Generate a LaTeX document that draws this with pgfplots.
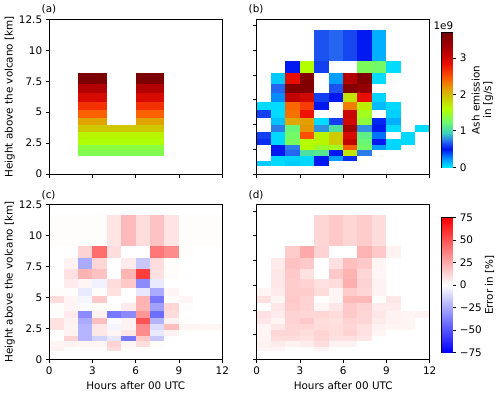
\documentclass[border=0pt]{standalone}
\usepackage{fontspec}
\setmainfont{DejaVu Sans}
\usepackage{pgfplots}
\pgfplotsset{compat=1.18}
\newcommand\ff{\fontsize{10.4}{11.5}\selectfont}

% emission scale (white below 0 marks "no emission"), plain emission scale, error scale
\pgfplotsset{
  colormap={ashW}{rgb255(0pt)=(255,255,255) rgb255(39pt)=(255,255,255) rgb255(40pt)=(0,230,255)
    rgb255(65pt)=(0,140,255) rgb255(89pt)=(0,20,240) rgb255(112pt)=(40,110,240)
    rgb255(135pt)=(60,210,190) rgb255(163pt)=(110,250,110) rgb255(200pt)=(180,255,0)
    rgb255(229pt)=(205,205,0) rgb255(260pt)=(230,150,0) rgb255(285pt)=(255,90,0)
    rgb255(322pt)=(235,15,0) rgb255(360pt)=(180,0,0) rgb255(409pt)=(120,0,0)},
  colormap={ash}{rgb255(0pt)=(0,230,255)
    rgb255(25pt)=(0,140,255) rgb255(49pt)=(0,20,240) rgb255(72pt)=(40,110,240)
    rgb255(95pt)=(60,210,190) rgb255(123pt)=(110,250,110) rgb255(160pt)=(180,255,0)
    rgb255(189pt)=(205,205,0) rgb255(220pt)=(230,150,0) rgb255(245pt)=(255,90,0)
    rgb255(282pt)=(235,15,0) rgb255(320pt)=(180,0,0) rgb255(369pt)=(120,0,0)},
  colormap={bwr}{rgb255(0pt)=(0,0,255) rgb255(1pt)=(255,255,255) rgb255(2pt)=(255,0,0)},
  base/.style={scale only axis, tick align=outside, major tick length=3.5pt,
    tick style={black, line width=0.7pt}, axis line style={black, line width=0.7pt},
    tick label style={font=\ff}, label style={font=\ff}},
  panel/.style={base, width=173pt, height=154.5pt, xmin=0, xmax=12, ymin=0, ymax=12.5,
    tick pos=left, xtick={0,3,6,9,12}, axis on top, ylabel style={yshift=-3pt}},
  emis/.style={colormap name=ashW, point meta min=-0.4, point meta max=3.69},
  err/.style={colormap name=bwr, point meta min=-75, point meta max=75},
  cells/.style={surf, shader=flat corner, mesh/cols=13, mesh/rows=16, point meta=explicit},
  cbar/.style={base, width=11pt, height=134.6pt, xmin=0, xmax=1, xtick=\empty,
    ytick pos=right, yticklabel pos=right},
}

\begin{document}
\ff
\begin{tikzpicture}
\useasboundingbox (0,0) rectangle (500pt,394pt);

% (a) a priori emission
\begin{axis}[panel, emis, at={(49.3pt,220pt)}, anchor=south west, xticklabels={},
  ytick={0,2.5,5,7.5,10,12.5}, yticklabels={0,2.5,5,7.5,10,12.5},
  ylabel={Height above the volcano [km]}]
\addplot[cells] coordinates {
(0,0.70)[-.4] (1,0.70)[-.4] (2,0.70)[-.4] (3,0.70)[-.4] (4,0.70)[-.4] (5,0.70)[-.4] (6,0.70)[-.4] (7,0.70)[-.4] (8,0.70)[-.4] (9,0.70)[-.4] (10,0.70)[-.4] (11,0.70)[-.4] (12,0.70)[-.4]
(0,1.10)[-.4] (1,1.10)[-.4] (2,1.10)[-.4] (3,1.10)[-.4] (4,1.10)[-.4] (5,1.10)[-.4] (6,1.10)[-.4] (7,1.10)[-.4] (8,1.10)[-.4] (9,1.10)[-.4] (10,1.10)[-.4] (11,1.10)[-.4] (12,1.10)[-.4]
(0,1.52)[-.4] (1,1.52)[-.4] (2,1.52)[1.33] (3,1.52)[1.33] (4,1.52)[1.33] (5,1.52)[1.33] (6,1.52)[1.33] (7,1.52)[1.33] (8,1.52)[-.4] (9,1.52)[-.4] (10,1.52)[-.4] (11,1.52)[-.4] (12,1.52)[-.4]
(0,1.97)[-.4] (1,1.97)[-.4] (2,1.97)[1.38] (3,1.97)[1.38] (4,1.97)[1.38] (5,1.97)[1.38] (6,1.97)[1.38] (7,1.97)[1.38] (8,1.97)[-.4] (9,1.97)[-.4] (10,1.97)[-.4] (11,1.97)[-.4] (12,1.97)[-.4]
(0,2.43)[-.4] (1,2.43)[-.4] (2,2.43)[1.58] (3,2.43)[1.58] (4,2.43)[1.58] (5,2.43)[1.58] (6,2.43)[1.58] (7,2.43)[1.58] (8,2.43)[-.4] (9,2.43)[-.4] (10,2.43)[-.4] (11,2.43)[-.4] (12,2.43)[-.4]
(0,2.90)[-.4] (1,2.90)[-.4] (2,2.90)[1.65] (3,2.90)[1.65] (4,2.90)[1.65] (5,2.90)[1.65] (6,2.90)[1.65] (7,2.90)[1.65] (8,2.90)[-.4] (9,2.90)[-.4] (10,2.90)[-.4] (11,2.90)[-.4] (12,2.90)[-.4]
(0,3.43)[-.4] (1,3.43)[-.4] (2,3.43)[1.92] (3,3.43)[1.92] (4,3.43)[1.92] (5,3.43)[1.92] (6,3.43)[1.92] (7,3.43)[1.92] (8,3.43)[-.4] (9,3.43)[-.4] (10,3.43)[-.4] (11,3.43)[-.4] (12,3.43)[-.4]
(0,3.99)[-.4] (1,3.99)[-.4] (2,3.99)[2.12] (3,3.99)[2.12] (4,3.99)[-.4] (5,3.99)[-.4] (6,3.99)[2.12] (7,3.99)[2.12] (8,3.99)[-.4] (9,3.99)[-.4] (10,3.99)[-.4] (11,3.99)[-.4] (12,3.99)[-.4]
(0,4.60)[-.4] (1,4.60)[-.4] (2,4.60)[2.42] (3,4.60)[2.42] (4,4.60)[-.4] (5,4.60)[-.4] (6,4.60)[2.42] (7,4.60)[2.42] (8,4.60)[-.4] (9,4.60)[-.4] (10,4.60)[-.4] (11,4.60)[-.4] (12,4.60)[-.4]
(0,5.22)[-.4] (1,5.22)[-.4] (2,5.22)[2.65] (3,5.22)[2.65] (4,5.22)[-.4] (5,5.22)[-.4] (6,5.22)[2.65] (7,5.22)[2.65] (8,5.22)[-.4] (9,5.22)[-.4] (10,5.22)[-.4] (11,5.22)[-.4] (12,5.22)[-.4]
(0,5.87)[-.4] (1,5.87)[-.4] (2,5.87)[2.95] (3,5.87)[2.95] (4,5.87)[-.4] (5,5.87)[-.4] (6,5.87)[2.95] (7,5.87)[2.95] (8,5.87)[-.4] (9,5.87)[-.4] (10,5.87)[-.4] (11,5.87)[-.4] (12,5.87)[-.4]
(0,6.60)[-.4] (1,6.60)[-.4] (2,6.60)[3.22] (3,6.60)[3.22] (4,6.60)[-.4] (5,6.60)[-.4] (6,6.60)[3.22] (7,6.60)[3.22] (8,6.60)[-.4] (9,6.60)[-.4] (10,6.60)[-.4] (11,6.60)[-.4] (12,6.60)[-.4]
(0,7.35)[-.4] (1,7.35)[-.4] (2,7.35)[3.65] (3,7.35)[3.65] (4,7.35)[-.4] (5,7.35)[-.4] (6,7.35)[3.65] (7,7.35)[3.65] (8,7.35)[-.4] (9,7.35)[-.4] (10,7.35)[-.4] (11,7.35)[-.4] (12,7.35)[-.4]
(0,8.27)[-.4] (1,8.27)[-.4] (2,8.27)[-.4] (3,8.27)[-.4] (4,8.27)[-.4] (5,8.27)[-.4] (6,8.27)[-.4] (7,8.27)[-.4] (8,8.27)[-.4] (9,8.27)[-.4] (10,8.27)[-.4] (11,8.27)[-.4] (12,8.27)[-.4]
(0,9.22)[-.4] (1,9.22)[-.4] (2,9.22)[-.4] (3,9.22)[-.4] (4,9.22)[-.4] (5,9.22)[-.4] (6,9.22)[-.4] (7,9.22)[-.4] (8,9.22)[-.4] (9,9.22)[-.4] (10,9.22)[-.4] (11,9.22)[-.4] (12,9.22)[-.4]
(0,11.65)[-.4] (1,11.65)[-.4] (2,11.65)[-.4] (3,11.65)[-.4] (4,11.65)[-.4] (5,11.65)[-.4] (6,11.65)[-.4] (7,11.65)[-.4] (8,11.65)[-.4] (9,11.65)[-.4] (10,11.65)[-.4] (11,11.65)[-.4] (12,11.65)[-.4]
};
\end{axis}

% (b) retrieved emission
\begin{axis}[panel, emis, at={(256.7pt,220pt)}, anchor=south west, xticklabels={},
  ytick={0,2,4,6,8,10,12}, yticklabels={}]
\addplot[cells] coordinates {
(0,0.70)[.08] (1,0.70)[.03] (2,0.70)[.07] (3,0.70)[.04] (4,0.70)[.5] (5,0.70)[-.4] (6,0.70)[-.4] (7,0.70)[-.4] (8,0.70)[-.4] (9,0.70)[-.4] (10,0.70)[-.4] (11,0.70)[-.4] (12,0.70)[-.4]
(0,1.10)[-.4] (1,1.10)[.05] (2,1.10)[.05] (3,1.10)[.04] (4,1.10)[.5] (5,1.10)[.2] (6,1.10)[.55] (7,1.10)[-.4] (8,1.10)[-.4] (9,1.10)[-.4] (10,1.10)[-.4] (11,1.10)[-.4] (12,1.10)[-.4]
(0,1.52)[-.4] (1,1.52)[.48] (2,1.52)[.7] (3,1.52)[1.05] (4,1.52)[1.1] (5,1.52)[.5] (6,1.52)[1.75] (7,1.52)[.75] (8,1.52)[-.4] (9,1.52)[-.4] (10,1.52)[-.4] (11,1.52)[-.4] (12,1.52)[-.4]
(0,1.97)[-.4] (1,1.97)[.5] (2,1.97)[.75] (3,1.97)[1.6] (4,1.97)[1.45] (5,1.97)[1.5] (6,1.97)[2.45] (7,1.97)[1.25] (8,1.97)[.2] (9,1.97)[.05] (10,1.97)[-.4] (11,1.97)[-.4] (12,1.97)[-.4]
(0,2.43)[.55] (1,2.43)[.04] (2,2.43)[1.3] (3,2.43)[1.6] (4,2.43)[1.65] (5,2.43)[1.9] (6,2.43)[3.1] (7,2.43)[1.2] (8,2.43)[.5] (9,2.43)[.04] (10,2.43)[.04] (11,2.43)[-.4] (12,2.43)[-.4]
(0,2.90)[.6] (1,2.90)[.04] (2,2.90)[1.25] (3,2.90)[2.5] (4,2.90)[1.65] (5,2.90)[1.9] (6,2.90)[2.95] (7,2.90)[1.15] (8,2.90)[.3] (9,2.90)[-.4] (10,2.90)[.04] (11,2.90)[-.4] (12,2.90)[-.4]
(0,3.43)[-.4] (1,3.43)[.75] (2,3.43)[1.2] (3,3.43)[2.2] (4,3.43)[.8] (5,3.43)[1.05] (6,3.43)[3.35] (7,3.43)[.8] (8,3.43)[.5] (9,3.43)[.03] (10,3.43)[-.4] (11,3.43)[.03] (12,3.43)[-.4]
(0,3.99)[-.4] (1,3.99)[.1] (2,3.99)[2.1] (3,3.99)[2.15] (4,3.99)[.03] (5,3.99)[.6] (6,3.99)[3.0] (7,3.99)[1.4] (8,3.99)[.45] (9,3.99)[.15] (10,3.99)[-.4] (11,3.99)[-.4] (12,3.99)[-.4]
(0,4.60)[.6] (1,4.60)[.03] (2,4.60)[2.35] (3,4.60)[2.8] (4,4.60)[-.4] (5,4.60)[-.4] (6,4.60)[3.05] (7,4.60)[1.5] (8,4.60)[-.4] (9,4.60)[.06] (10,4.60)[-.4] (11,4.60)[-.4] (12,4.60)[-.4]
(0,5.22)[.03] (1,5.22)[.03] (2,5.22)[2.4] (3,5.22)[2.6] (4,5.22)[.5] (5,5.22)[-.4] (6,5.22)[2.3] (7,5.22)[1.7] (8,5.22)[.12] (9,5.22)[.04] (10,5.22)[-.4] (11,5.22)[-.4] (12,5.22)[-.4]
(0,5.87)[-.4] (1,5.87)[.25] (2,5.87)[3.1] (3,5.87)[3.0] (4,5.87)[.6] (5,5.87)[.5] (6,5.87)[1.75] (7,5.87)[2.85] (8,5.87)[.05] (9,5.87)[-.4] (10,5.87)[-.4] (11,5.87)[-.4] (12,5.87)[-.4]
(0,6.60)[-.4] (1,6.60)[.7] (2,6.60)[3.6] (3,6.60)[3.6] (4,6.60)[-.4] (5,6.60)[.65] (6,6.60)[3.6] (7,6.60)[3.45] (8,6.60)[-.4] (9,6.60)[-.4] (10,6.60)[-.4] (11,6.60)[-.4] (12,6.60)[-.4]
(0,7.35)[-.4] (1,7.35)[.08] (2,7.35)[2.85] (3,7.35)[3.6] (4,7.35)[-.4] (5,7.35)[.2] (6,7.35)[3.2] (7,7.35)[3.6] (8,7.35)[.03] (9,7.35)[-.4] (10,7.35)[-.4] (11,7.35)[-.4] (12,7.35)[-.4]
(0,8.27)[-.4] (1,8.27)[-.4] (2,8.27)[.5] (3,8.27)[1.6] (4,8.27)[.6] (5,8.27)[-.4] (6,8.27)[-.4] (7,8.27)[1.3] (8,8.27)[1.25] (9,8.27)[.03] (10,8.27)[-.4] (11,8.27)[-.4] (12,8.27)[-.4]
(0,9.22)[-.4] (1,9.22)[-.4] (2,9.22)[-.4] (3,9.22)[-.4] (4,9.22)[.65] (5,9.22)[.7] (6,9.22)[.62] (7,9.22)[.48] (8,9.22)[.15] (9,9.22)[-.4] (10,9.22)[-.4] (11,9.22)[-.4] (12,9.22)[-.4]
(0,11.65)[-.4] (1,11.65)[-.4] (2,11.65)[-.4] (3,11.65)[-.4] (4,11.65)[-.4] (5,11.65)[-.4] (6,11.65)[-.4] (7,11.65)[-.4] (8,11.65)[-.4] (9,11.65)[-.4] (10,11.65)[-.4] (11,11.65)[-.4] (12,11.65)[-.4]
};
\end{axis}

% (c) error, first case
\begin{axis}[panel, err, at={(49.3pt,34.7pt)}, anchor=south west,
  xticklabels={0,3,6,9,12}, xlabel={Hours after 00 UTC},
  ytick={0,2.5,5,7.5,10,12.5}, yticklabels={0,2.5,5,7.5,10,12.5},
  ylabel={Height above the volcano [km]}]
\addplot[cells] coordinates {
(0,0.70)[4] (1,0.70)[1] (2,0.70)[1] (3,0.70)[1] (4,0.70)[10] (5,0.70)[1] (6,0.70)[1] (7,0.70)[0] (8,0.70)[0] (9,0.70)[0] (10,0.70)[0] (11,0.70)[0] (12,0.70)[0]
(0,1.10)[3] (1,1.10)[4] (2,1.10)[3] (3,1.10)[3] (4,1.10)[13] (5,1.10)[3] (6,1.10)[10] (7,1.10)[1] (8,1.10)[0] (9,1.10)[0] (10,1.10)[0] (11,1.10)[0] (12,1.10)[0]
(0,1.52)[0] (1,1.52)[13] (2,1.52)[-22] (3,1.52)[-13] (4,1.52)[-7] (5,1.52)[-40] (6,1.52)[16] (7,1.52)[-16] (8,1.52)[0] (9,1.52)[0] (10,1.52)[0] (11,1.52)[0] (12,1.52)[0]
(0,1.97)[1] (1,1.97)[4] (2,1.97)[-22] (3,1.97)[7] (4,1.97)[3] (5,1.97)[7] (6,1.97)[34] (7,1.97)[-6] (8,1.97)[4] (9,1.97)[0] (10,1.97)[0] (11,1.97)[0] (12,1.97)[0]
(0,2.43)[9] (1,2.43)[3] (2,2.43)[-22] (3,2.43)[7] (4,2.43)[-3] (5,2.43)[4] (6,2.43)[34] (7,2.43)[-10] (8,2.43)[19] (9,2.43)[3] (10,2.43)[3] (11,2.43)[3] (12,2.43)[0]
(0,2.90)[9] (1,2.90)[4] (2,2.90)[-25] (3,2.90)[19] (4,2.90)[-1] (5,2.90)[4] (6,2.90)[51] (7,2.90)[-22] (8,2.90)[4] (9,2.90)[1] (10,2.90)[0] (11,2.90)[0] (12,2.90)[0]
(0,3.43)[1] (1,3.43)[6] (2,3.43)[-34] (3,3.43)[4] (4,3.43)[-40] (5,3.43)[-34] (6,3.43)[31] (7,3.43)[-43] (8,3.43)[10] (9,3.43)[0] (10,3.43)[0] (11,3.43)[0] (12,3.43)[0]
(0,3.99)[1] (1,3.99)[3] (2,3.99)[-1] (3,3.99)[1] (4,3.99)[0] (5,3.99)[6] (6,3.99)[22] (7,3.99)[-28] (8,3.99)[12] (9,3.99)[1] (10,3.99)[0] (11,3.99)[0] (12,3.99)[0]
(0,4.60)[10] (1,4.60)[3] (2,4.60)[-3] (3,4.60)[16] (4,4.60)[0] (5,4.60)[0] (6,4.60)[22] (7,4.60)[-40] (8,4.60)[1] (9,4.60)[3] (10,4.60)[0] (11,4.60)[0] (12,4.60)[0]
(0,5.22)[1] (1,5.22)[1] (2,5.22)[-6] (3,5.22)[1] (4,5.22)[9] (5,5.22)[0] (6,5.22)[-7] (7,5.22)[-25] (8,5.22)[3] (9,5.22)[0] (10,5.22)[0] (11,5.22)[0] (12,5.22)[0]
(0,5.87)[0] (1,5.87)[6] (2,5.87)[3] (3,5.87)[-4] (4,5.87)[10] (5,5.87)[16] (6,5.87)[-34] (7,5.87)[-6] (8,5.87)[0] (9,5.87)[0] (10,5.87)[0] (11,5.87)[0] (12,5.87)[0]
(0,6.60)[0] (1,6.60)[9] (2,6.60)[22] (3,6.60)[18] (4,6.60)[0] (5,6.60)[22] (6,6.60)[57] (7,6.60)[9] (8,6.60)[1] (9,6.60)[0] (10,6.60)[0] (11,6.60)[0] (12,6.60)[0]
(0,7.35)[0] (1,7.35)[4] (2,7.35)[-25] (3,7.35)[12] (4,7.35)[0] (5,7.35)[6] (6,7.35)[-16] (7,7.35)[10] (8,7.35)[1] (9,7.35)[0] (10,7.35)[0] (11,7.35)[0] (12,7.35)[0]
(0,8.27)[0] (1,8.27)[0] (2,8.27)[13] (3,8.27)[43] (4,8.27)[10] (5,8.27)[0] (6,8.27)[0] (7,8.27)[40] (8,8.27)[34] (9,8.27)[1] (10,8.27)[0] (11,8.27)[0] (12,8.27)[0]
(0,9.22)[1] (1,9.22)[1] (2,9.22)[1] (3,9.22)[1] (4,9.22)[8] (5,9.22)[20] (6,9.22)[10] (7,9.22)[18] (8,9.22)[8] (9,9.22)[1] (10,9.22)[1] (11,9.22)[1] (12,9.22)[0]
(0,11.65)[0] (1,11.65)[0] (2,11.65)[0] (3,11.65)[0] (4,11.65)[0] (5,11.65)[0] (6,11.65)[0] (7,11.65)[0] (8,11.65)[0] (9,11.65)[0] (10,11.65)[0] (11,11.65)[0] (12,11.65)[0]
};
\end{axis}

% (d) error, second case
\begin{axis}[panel, err, at={(256.7pt,34.7pt)}, anchor=south west,
  xticklabels={0,3,6,9,12}, xlabel={Hours after 00 UTC},
  ytick={0,2,4,6,8,10,12}, yticklabels={}]
\addplot[cells] coordinates {
(0,0.70)[3] (1,0.70)[3] (2,0.70)[1] (3,0.70)[1] (4,0.70)[4] (5,0.70)[0] (6,0.70)[0] (7,0.70)[0] (8,0.70)[0] (9,0.70)[0] (10,0.70)[0] (11,0.70)[0] (12,0.70)[0]
(0,1.10)[4] (1,1.10)[6] (2,1.10)[4] (3,1.10)[6] (4,1.10)[10] (5,1.10)[4] (6,1.10)[4] (7,1.10)[0] (8,1.10)[0] (9,1.10)[0] (10,1.10)[0] (11,1.10)[0] (12,1.10)[0]
(0,1.52)[3] (1,1.52)[10] (2,1.52)[10] (3,1.52)[9] (4,1.52)[12] (5,1.52)[9] (6,1.52)[9] (7,1.52)[7] (8,1.52)[0] (9,1.52)[0] (10,1.52)[0] (11,1.52)[0] (12,1.52)[0]
(0,1.97)[3] (1,1.97)[12] (2,1.97)[12] (3,1.97)[10] (4,1.97)[13] (5,1.97)[10] (6,1.97)[13] (7,1.97)[9] (8,1.97)[3] (9,1.97)[0] (10,1.97)[0] (11,1.97)[0] (12,1.97)[0]
(0,2.43)[3] (1,2.43)[7] (2,2.43)[12] (3,2.43)[12] (4,2.43)[10] (5,2.43)[10] (6,2.43)[12] (7,2.43)[9] (8,2.43)[4] (9,2.43)[3] (10,2.43)[3] (11,2.43)[0] (12,2.43)[0]
(0,2.90)[7] (1,2.90)[3] (2,2.90)[13] (3,2.90)[16] (4,2.90)[10] (5,2.90)[9] (6,2.90)[13] (7,2.90)[12] (8,2.90)[6] (9,2.90)[4] (10,2.90)[3] (11,2.90)[0] (12,2.90)[0]
(0,3.43)[9] (1,3.43)[6] (2,3.43)[13] (3,3.43)[12] (4,3.43)[12] (5,3.43)[10] (6,3.43)[16] (7,3.43)[12] (8,3.43)[7] (9,3.43)[4] (10,3.43)[3] (11,3.43)[4] (12,3.43)[0]
(0,3.99)[1] (1,3.99)[7] (2,3.99)[15] (3,3.99)[13] (4,3.99)[3] (5,3.99)[7] (6,3.99)[16] (7,3.99)[13] (8,3.99)[6] (9,3.99)[6] (10,3.99)[0] (11,3.99)[0] (12,3.99)[0]
(0,4.60)[9] (1,4.60)[3] (2,4.60)[16] (3,4.60)[13] (4,4.60)[1] (5,4.60)[3] (6,4.60)[21] (7,4.60)[21] (8,4.60)[1] (9,4.60)[7] (10,4.60)[0] (11,4.60)[0] (12,4.60)[0]
(0,5.22)[3] (1,5.22)[6] (2,5.22)[15] (3,5.22)[15] (4,5.22)[10] (5,5.22)[3] (6,5.22)[15] (7,5.22)[12] (8,5.22)[4] (9,5.22)[0] (10,5.22)[0] (11,5.22)[0] (12,5.22)[0]
(0,5.87)[0] (1,5.87)[7] (2,5.87)[15] (3,5.87)[13] (4,5.87)[9] (5,5.87)[10] (6,5.87)[24] (7,5.87)[13] (8,5.87)[4] (9,5.87)[0] (10,5.87)[0] (11,5.87)[0] (12,5.87)[0]
(0,6.60)[0] (1,6.60)[7] (2,6.60)[16] (3,6.60)[9] (4,6.60)[0] (5,6.60)[16] (6,6.60)[22] (7,6.60)[12] (8,6.60)[3] (9,6.60)[0] (10,6.60)[0] (11,6.60)[0] (12,6.60)[0]
(0,7.35)[0] (1,7.35)[6] (2,7.35)[18] (3,7.35)[16] (4,7.35)[0] (5,7.35)[9] (6,7.35)[19] (7,7.35)[16] (8,7.35)[3] (9,7.35)[0] (10,7.35)[0] (11,7.35)[0] (12,7.35)[0]
(0,8.27)[0] (1,8.27)[0] (2,8.27)[15] (3,8.27)[25] (4,8.27)[13] (5,8.27)[0] (6,8.27)[0] (7,8.27)[22] (8,8.27)[16] (9,8.27)[4] (10,8.27)[0] (11,8.27)[0] (12,8.27)[0]
(0,9.22)[0] (1,9.22)[0] (2,9.22)[0] (3,9.22)[0] (4,9.22)[12] (5,9.22)[16] (6,9.22)[12] (7,9.22)[15] (8,9.22)[10] (9,9.22)[0] (10,9.22)[0] (11,9.22)[0] (12,9.22)[0]
(0,11.65)[0] (1,11.65)[0] (2,11.65)[0] (3,11.65)[0] (4,11.65)[0] (5,11.65)[0] (6,11.65)[0] (7,11.65)[0] (8,11.65)[0] (9,11.65)[0] (10,11.65)[0] (11,11.65)[0] (12,11.65)[0]
};
\end{axis}

% colour bar for the emission
\begin{axis}[cbar, at={(441.7pt,226.7pt)}, anchor=south west, ymin=0, ymax=3.69,
  ytick={0,1,2,3}, yticklabels={0,1,2,3},
  colormap name=ash, point meta min=0, point meta max=3.69]
\addplot[surf, shader=interp, mesh/cols=2, mesh/rows=13, point meta=explicit] coordinates {
(0,0)[0] (1,0)[0] (0,0.25)[0.25] (1,0.25)[0.25] (0,0.49)[0.49] (1,0.49)[0.49]
(0,0.72)[0.72] (1,0.72)[0.72] (0,0.95)[0.95] (1,0.95)[0.95] (0,1.23)[1.23] (1,1.23)[1.23]
(0,1.6)[1.6] (1,1.6)[1.6] (0,1.89)[1.89] (1,1.89)[1.89] (0,2.2)[2.2] (1,2.2)[2.2]
(0,2.45)[2.45] (1,2.45)[2.45] (0,2.82)[2.82] (1,2.82)[2.82] (0,3.2)[3.2] (1,3.2)[3.2]
(0,3.69)[3.69] (1,3.69)[3.69]
};
\end{axis}

% colour bar for the error
\begin{axis}[cbar, at={(441.7pt,41.7pt)}, anchor=south west, ymin=-75, ymax=75,
  ytick={-75,-50,-25,0,25,50,75}, yticklabels={−75,−50,−25,0,25,50,75},
  colormap name=bwr, point meta min=-75, point meta max=75]
\addplot[surf, shader=interp, mesh/cols=2, mesh/rows=3, point meta=explicit] coordinates {
(0,-75)[-75] (1,-75)[-75] (0,0)[0] (1,0)[0] (0,75)[75] (1,75)[75]
};
\end{axis}

\node[anchor=base west, inner sep=0] at (41.5pt,381.5pt) {(a)};
\node[anchor=base west, inner sep=0] at (248.5pt,381.5pt) {(b)};
\node[anchor=base west, inner sep=0] at (41.5pt,196pt) {(c)};
\node[anchor=base west, inner sep=0] at (248.5pt,196pt) {(d)};
\node[anchor=base west, inner sep=0] at (433.3pt,364pt) {1e9};
\node[rotate=90, align=center, inner sep=0] at (482.5pt,294pt) {Ash emission\\in [g/s]};
\node[rotate=90, inner sep=0] at (489.5pt,109pt) {Error in [\%]};
\end{tikzpicture}
\end{document}
